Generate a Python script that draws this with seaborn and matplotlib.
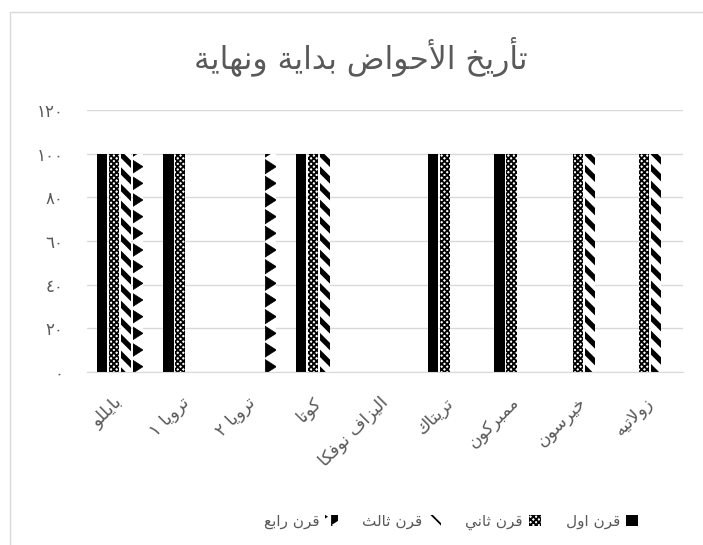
import re
import warnings
import numpy as np
import pandas as pd
import matplotlib
matplotlib.use("Agg")
import matplotlib.pyplot as plt
import matplotlib.hatch as mhatch
import matplotlib.transforms as mtransforms
from matplotlib.path import Path
from matplotlib.patches import Rectangle
import seaborn as sns

warnings.filterwarnings("ignore")

# ---------------- data ----------------
title = "تأريخ الأحواض بداية ونهاية"
categories = ["بايللو", "ترويا ١", "ترويا ٢", "كوتا", "اليزاف نوفكا",
              "تريتاك", "ممبركون", "خيرسون", "زولاتيه"]
series = ["قرن اول", "قرن ثاني", "قرن ثالث", "قرن رابع"]
century1 = [100, 100, 0, 100, 0, 100, 100, 0, 0]
century2 = [100, 100, 0, 100, 0, 100, 100, 100, 100]
century3 = [100, 0, 0, 100, 0, 0, 0, 100, 100]
century4 = [100, 0, 100, 0, 0, 0, 0, 0, 0]
yticks = [0, 20, 40, 60, 80, 100, 120]
ytick_labels = ["٠", "٢٠", "٤٠", "٦٠", "٨٠", "١٠٠", "١٢٠"]

# ---------------- Arabic shaping (matplotlib has no bidi/shaping) ----------------
AR_FORMS = {
    "ا": (0xFE8D, 2), "أ": (0xFE83, 2), "ب": (0xFE8F, 4), "ة": (0xFE93, 2),
    "ت": (0xFE95, 4), "ث": (0xFE99, 4), "ح": (0xFEA1, 4), "خ": (0xFEA5, 4),
    "د": (0xFEA9, 2), "ر": (0xFEAD, 2), "ز": (0xFEAF, 2), "س": (0xFEB1, 4),
    "ض": (0xFEBD, 4), "ع": (0xFEC9, 4), "ف": (0xFED1, 4), "ق": (0xFED5, 4),
    "ك": (0xFED9, 4), "ل": (0xFEDD, 4), "م": (0xFEE1, 4), "ن": (0xFEE5, 4),
    "ه": (0xFEE9, 4), "و": (0xFEED, 2), "ي": (0xFEF1, 4),
}
LAM_ALEF = {"ا": 0xFEFB, "أ": 0xFEF7}


def shape_ar(text):
    out = []
    n = len(text)
    i = 0
    prev_joins = False
    while i < n:
        c = text[i]
        if c not in AR_FORMS:
            out.append(c)
            prev_joins = False
            i += 1
            continue
        nxt = text[i + 1] if i + 1 < n else None
        if c == "ل" and nxt in LAM_ALEF:
            out.append(chr(LAM_ALEF[nxt] + (1 if prev_joins else 0)))
            prev_joins = False
            i += 2
            continue
        base, nf = AR_FORMS[c]
        can_next = nf == 4 and (nxt in AR_FORMS)
        if prev_joins and can_next:
            form = 3
        elif prev_joins:
            form = 1
        elif can_next:
            form = 2
        else:
            form = 0
        out.append(chr(base + form))
        prev_joins = can_next
        i += 1
    vis = "".join(reversed(out))
    vis = re.sub(r"[0-9\u0660-\u0669]+", lambda m: m.group(0)[::-1], vis)
    return vis


# ---------------- custom triangle hatch (replaces the star hatch '*') ----------------
class TriangleHatch(mhatch.HatchPatternBase):
    def __init__(self, hatch, density):
        self.n = int(hatch.count("*") * density)
        self.num_vertices = (self.n + 1) ** 2 * 4 if self.n else 0

    def set_vertices_and_codes(self, vertices, codes):
        n = self.n
        tri = (np.array([[-0.33, -0.42], [0.33, 0.0], [-0.33, 0.42], [-0.33, -0.42]])
               + [0.25, 0.0]) / n
        tcodes = np.array([Path.MOVETO, Path.LINETO, Path.LINETO, Path.CLOSEPOLY],
                          dtype=Path.code_type)
        vparts, cparts = [], []
        for r in range(n + 1):
            for c in range(n + 1):
                vparts.append(tri + [c / n, r / n])
                cparts.append(tcodes)
        np.concatenate(vparts, out=vertices)
        np.concatenate(cparts, out=codes)


mhatch._hatch_types = [h for h in mhatch._hatch_types if h is not mhatch.Stars] + [TriangleHatch]

# ---------------- style ----------------
sns.set_style("white")
plt.rcParams["font.family"] = ["DejaVu Sans"]
plt.rcParams["hatch.color"] = "black"
plt.rcParams["hatch.linewidth"] = 1.3

df = pd.DataFrame({
    "category": np.tile(categories, len(series)),
    "series": np.repeat(series, len(categories)),
    "value": century1 + century2 + century3 + century4,
})

fig = plt.figure(figsize=(7.03, 5.45), dpi=100)
ax = fig.add_axes([87 / 703, 1 - 372 / 545, (683 - 87) / 703, (372 - 110) / 545])

sns.barplot(data=df, x="category", y="value", hue="series", order=categories,
            hue_order=series, palette=["black", "white", "white", "white"],
            width=0.72, gap=0.15, linewidth=0, edgecolor="black",
            legend=False, ax=ax)

hatches = [None, "xxxxxx", "\\\\", "*"]
hatch_lw = [1.0, 1.3, 3.8, 0.5]
for cont, h, hl in zip(ax.containers, hatches, hatch_lw):
    for p in cont.patches:
        p.set_edgecolor("black")
        p.set_linewidth(0)
        if h:
            p.set_hatch(h)
            if hasattr(p, "set_hatch_linewidth"):
                p.set_hatch_linewidth(hl)

ax.set_ylim(0, 120)
ax.set_yticks(yticks)
ax.set_yticklabels(ytick_labels, fontsize=12, color="#595959")
ax.set_xticks(range(len(categories)))
ax.set_xticklabels([shape_ar(c) for c in categories], rotation=45, ha="right",
                   va="center", rotation_mode="anchor", fontsize=12.5, color="#595959")
offset = mtransforms.ScaledTranslation(5 / 100, 0, fig.dpi_scale_trans)
for lab in ax.get_xticklabels():
    lab.set_transform(lab.get_transform() + offset)
ax.tick_params(axis="y", length=0, pad=17)
ax.tick_params(axis="x", length=0, pad=20)
ax.set_xlabel("")
ax.set_ylabel("")
ax.yaxis.grid(True, color="#d9d9d9", linewidth=1)
ax.set_axisbelow(True)
for s in ["top", "right", "left"]:
    ax.spines[s].set_visible(False)
ax.spines["bottom"].set_color("#d9d9d9")

fig.text(361 / 703, 1 - 57 / 545, shape_ar(title), ha="center", va="center",
         fontsize=22.5, color="#595959")

handles = list(reversed(ax.containers))
leg = ax.legend(handles=handles, labels=[shape_ar(s) for s in reversed(series)],
                loc="center", bbox_to_anchor=(451 / 703, 1 - 522 / 545),
                bbox_transform=fig.transFigure, ncol=4, frameon=False,
                markerfirst=False, handlelength=0.8, handleheight=0.8,
                handletextpad=0.4, columnspacing=1.6, fontsize=11,
                labelcolor="#595959")

fig.patches.append(Rectangle((10 / 703, -0.05), 1.2, 1 - 12 / 545 + 0.05,
                             transform=fig.transFigure, fill=False,
                             edgecolor="#d9d9d9", linewidth=1, zorder=-1))

fig.savefig("out.png", dpi=100)
